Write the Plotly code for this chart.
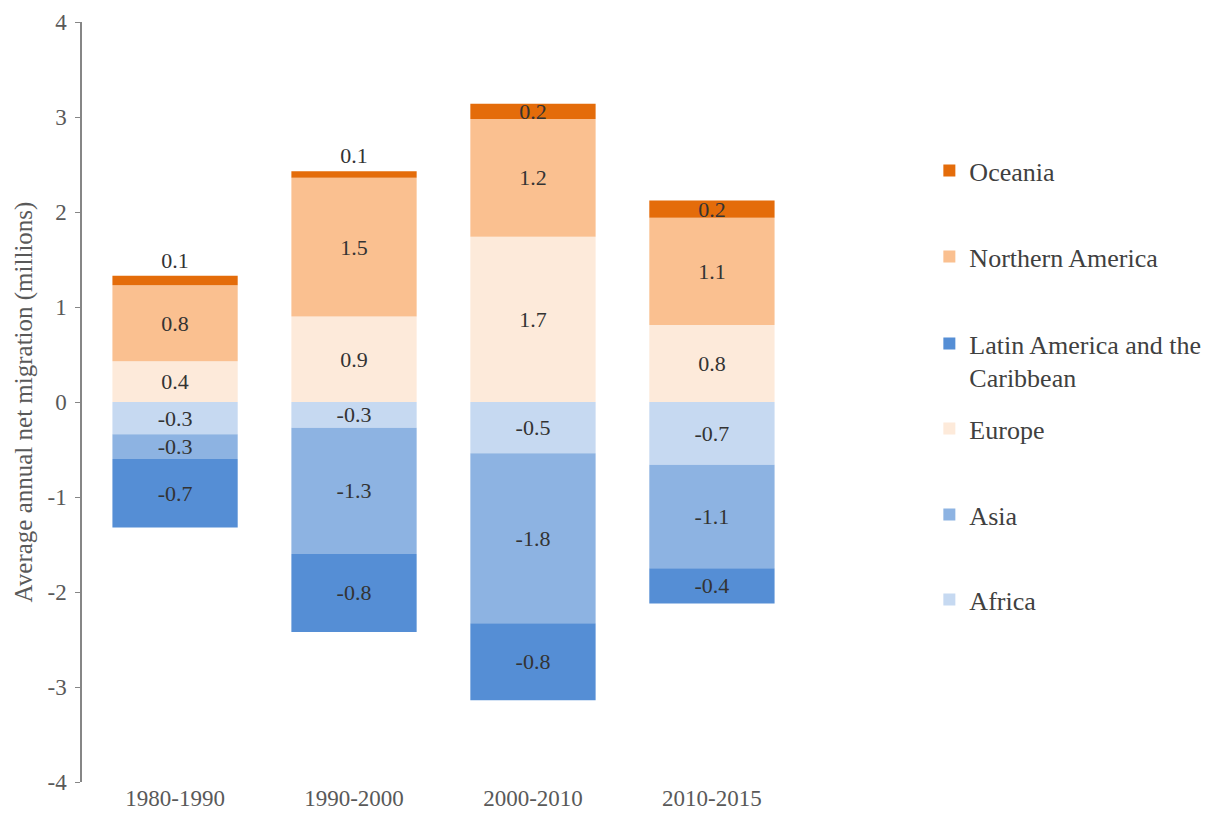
import plotly.graph_objects as go

periods = ["1980-1990", "1990-2000", "2000-2010", "2010-2015"]

africa = [-0.34, -0.27, -0.54, -0.66]
asia = [-0.26, -1.33, -1.79, -1.09]
latin_america = [-0.72, -0.82, -0.81, -0.37]
europe = [0.43, 0.90, 1.74, 0.81]
northern_america = [0.80, 1.46, 1.24, 1.13]
oceania = [0.10, 0.07, 0.16, 0.18]

y_tick_values = [-4, -3, -2, -1, 0, 1, 2, 3, 4]
y_tick_labels = ["-4", "-3", "-2", "-1", "0", "1", "2", "3", "4"]

series = [
    ("Africa", africa, "#C6D9F1", "inside"),
    ("Asia", asia, "#8DB3E2", "inside"),
    ("Latin America and the<br>Caribbean", latin_america, "#558ED5", "inside"),
    ("Europe", europe, "#FDEADA", "inside"),
    ("Northern America", northern_america, "#FAC090", "inside"),
    ("Oceania", oceania, "#E46C0A", ["outside", "outside", "inside", "inside"]),
]

FONT = "Liberation Serif"

# legend slot (pixel centre of first text line in page) for each series
legend_centres = [601, 516, 345, 430, 258, 172]

fig = go.Figure()
for i, (name, vals, color, tpos) in enumerate(series):
    lg = "legend" if i == 0 else f"legend{i+1}"
    fig.add_trace(go.Bar(
        x=periods, y=vals, name=name, legend=lg,
        marker=dict(color=color, line=dict(width=0)),
        texttemplate="%{y:.1f}", textposition=tpos,
        insidetextanchor="middle", constraintext="none",
        textfont=dict(family=FONT, size=22, color="#333333"),
        insidetextfont=dict(family=FONT, size=22, color="#333333"),
        outsidetextfont=dict(family=FONT, size=22, color="#333333"),
        cliponaxis=False,
    ))

PLOT_TOP, PLOT_BOTTOM = 22, 782
legends = {}
for i, c in enumerate(legend_centres):
    key = "legend" if i == 0 else f"legend{i+1}"
    legends[key] = dict(
        x=1.172, xanchor="left",
        y=(PLOT_BOTTOM - (c - 25)) / (PLOT_BOTTOM - PLOT_TOP), yanchor="top",
        font=dict(family=FONT, size=26, color="#404040"),
        valign="top", itemwidth=30, bgcolor="rgba(0,0,0,0)",
    )

fig.update_layout(
    barmode="relative",
    bargap=0.3,
    width=1204, height=813,
    margin=dict(l=74, r=407, t=14, b=39, autoexpand=False),
    paper_bgcolor="white", plot_bgcolor="white",
    font=dict(family=FONT, color="#595959"),
    showlegend=True,
    xaxis=dict(
        showline=False, showgrid=False, zeroline=False, ticks="",
        tickfont=dict(family=FONT, size=23, color="#595959"),
        range=[-0.52, 3.52], automargin=False,
    ),
    yaxis=dict(
        range=[-4, 4], tickvals=y_tick_values, ticktext=y_tick_labels,
        showgrid=False, zeroline=False, automargin=False,
        showline=True, linecolor="#868686", linewidth=1.5,
        ticks="outside", ticklen=5, tickcolor="#868686", ticklabelstandoff=4,
        tickfont=dict(family=FONT, size=23, color="#595959"),
        title=dict(text="Average annual net migration (millions)",
                   font=dict(family=FONT, size=25, color="#595959"), standoff=8),
    ),
    **legends,
)

fig.write_html("out.html")
